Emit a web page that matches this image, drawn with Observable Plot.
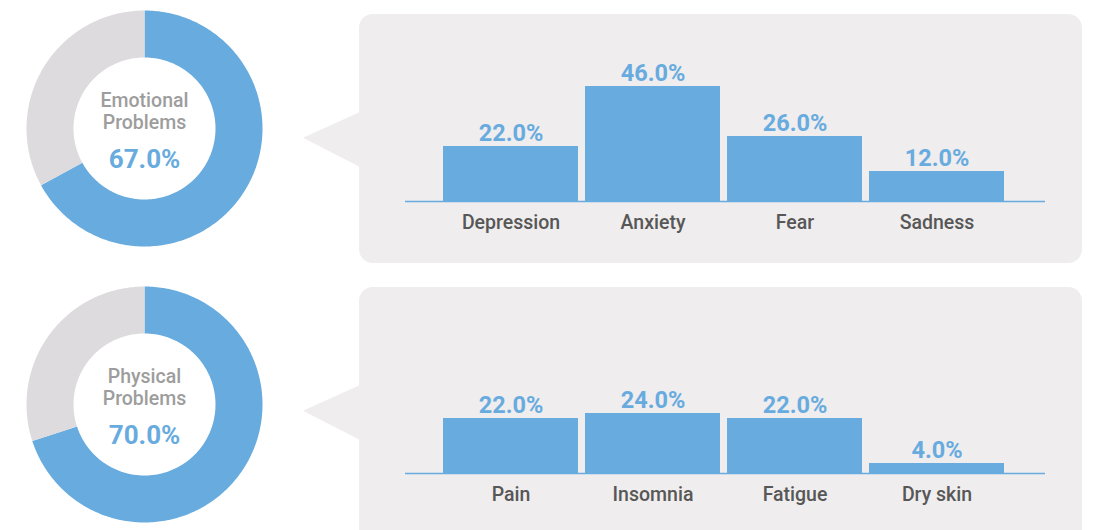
<!DOCTYPE html>
<html>
<head>
<meta charset="utf-8">
<script src="https://cdn.jsdelivr.net/npm/d3@7"></script>
<script src="https://cdn.jsdelivr.net/npm/@observablehq/plot@0.6"></script>
<style>
  html, body { margin: 0; padding: 0; background: #ffffff; }
  #root { position: relative; width: 1096px; height: 530px; overflow: hidden; font-family: Roboto, "Noto Sans", sans-serif; }
  .panel { position: absolute; background: #efedee; border-radius: 14px; }
  .pointer { position: absolute; background: #efedee; clip-path: polygon(0% 47%, 100% 0%, 100% 100%); }
  .abs { position: absolute; }
  .abs svg { overflow: visible; }
</style>
</head>
<body>
<div id="root">
  <div class="panel" style="left:359px;top:14px;width:723px;height:249px;"></div>
  <div class="pointer" style="left:303px;top:112px;width:57px;height:55px;"></div>
  <div class="panel" style="left:359px;top:287px;width:723px;height:262px;"></div>
  <div class="pointer" style="left:303px;top:385px;width:57px;height:55px;"></div>
  <div id="donut1" class="abs" style="left:24px;top:8px;"></div>
  <div id="donut2" class="abs" style="left:24px;top:284px;"></div>
  <div id="bars1" class="abs" style="left:385px;top:40px;"></div>
  <div id="bars2" class="abs" style="left:385px;top:312px;"></div>
</div>
<script>
// ---- data ----
const groupNames = ["Emotional Problems", "Physical Problems"];
const groupTotals = [67.0, 70.0];
const emotionalCats = ["Depression", "Anxiety", "Fear", "Sadness"];
const emotionalVals = [22.0, 46.0, 26.0, 12.0];
const physicalCats = ["Pain", "Insomnia", "Fatigue", "Dry skin"];
const physicalVals = [22.0, 24.0, 22.0, 4.0];

// ---- styles ----
const BLUE = "#68abde";
const GREY_RING = "#dedbde";
const fmt = v => d3.format(".1f")(v) + "%";
const FONT = "Roboto, 'Noto Sans', sans-serif";

function ringPolygon(f0, f1, rOuter, rInner) {
  const pts = [];
  const n = Math.max(8, Math.ceil((f1 - f0) * 360));
  for (let i = 0; i <= n; i++) {
    const a = 2 * Math.PI * (f0 + (f1 - f0) * i / n);
    pts.push({x: rOuter * Math.sin(a), y: rOuter * Math.cos(a)});
  }
  for (let i = n; i >= 0; i--) {
    const a = 2 * Math.PI * (f0 + (f1 - f0) * i / n);
    pts.push({x: rInner * Math.sin(a), y: rInner * Math.cos(a)});
  }
  pts.push(pts[0]);
  return pts;
}

function donut(name, pct) {
  const frac = pct / 100;
  const words = name.split(" ");
  const R = 118, r = 71;
  return Plot.plot({
    width: 240, height: 240,
    margin: 0,
    style: {background: "transparent", fontFamily: FONT, overflow: "visible"},
    x: {domain: [-120, 120], axis: null},
    y: {domain: [-120, 120], axis: null},
    marks: [
      Plot.line(ringPolygon(0, frac, R, r), {x: "x", y: "y", fill: BLUE, stroke: "none"}),
      Plot.line(ringPolygon(frac, 1, R, r), {x: "x", y: "y", fill: GREY_RING, stroke: "none"}),
      Plot.text([words[0]], {x: () => 0, y: () => 0, text: d => d, fontSize: 19.5, fontWeight: 500, fill: "#9d9d9d", dy: -27.5, lineAnchor: "middle"}),
      Plot.text([words[1]], {x: () => 0, y: () => 0, text: d => d, fontSize: 19.5, fontWeight: 500, fill: "#9d9d9d", dy: -5.5, lineAnchor: "middle"}),
      Plot.text([pct], {x: () => 0, y: () => 0, text: d => fmt(d), fontSize: 26, fontWeight: "bold", fill: BLUE, dy: 31.5, lineAnchor: "middle"})
    ]
  });
}

function bars(cats, vals) {
  const data = cats.map((c, i) => ({cat: c, val: vals[i]}));
  return Plot.plot({
    width: 680, height: 200,
    marginLeft: 20, marginRight: 20, marginTop: 11, marginBottom: 39,
    style: {background: "transparent", fontFamily: FONT, overflow: "visible"},
    x: {type: "band", domain: cats, paddingInner: 0.05, paddingOuter: 0.025, insetLeft: 33, insetRight: 36, label: null},
    y: {domain: [0, 60], axis: null},
    marks: [
      Plot.barY(data, {x: "cat", y: "val", fill: BLUE}),
      Plot.ruleY([0], {stroke: BLUE, strokeWidth: 1.3}),
      Plot.text(data, {x: "cat", y: "val", text: d => fmt(d.val), fill: BLUE, fontSize: 23.5, fontWeight: "bold", lineAnchor: "middle", dy: -13.5}),
      Plot.axisX({tickSize: 0, tickPadding: 14, fontSize: 19.5, fontWeight: 500, fill: "#575757", label: null})
    ]
  });
}

document.getElementById("donut1").append(donut(groupNames[0], groupTotals[0]));
document.getElementById("donut2").append(donut(groupNames[1], groupTotals[1]));
document.getElementById("bars1").append(bars(emotionalCats, emotionalVals));
document.getElementById("bars2").append(bars(physicalCats, physicalVals));
</script>
</body>
</html>
